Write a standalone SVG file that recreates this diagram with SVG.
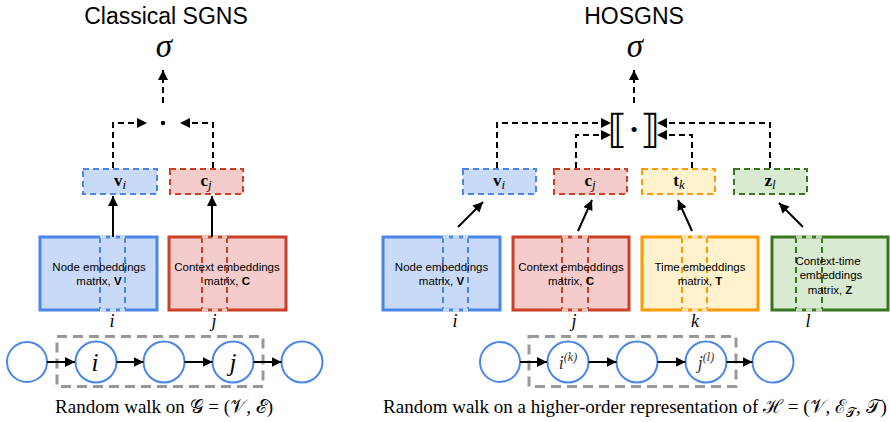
<svg xmlns="http://www.w3.org/2000/svg" width="890" height="422" viewBox="0 0 890 422">
<defs>
<marker id="ah" viewBox="0 0 10 10" refX="10" refY="5" markerWidth="5" markerHeight="5" markerUnits="strokeWidth" orient="auto">
<path d="M0,0 L10,5 L0,10 z" fill="#000"/>
</marker>
<style>
.title{font-family:"Liberation Sans",Arial,sans-serif;font-size:23px;fill:#000;text-anchor:middle}
.sig{font-family:"Liberation Serif","DejaVu Serif",serif;font-style:italic;font-size:33px;fill:#000;text-anchor:middle}
.mt{font-family:"Liberation Sans",Arial,sans-serif;font-size:11.5px;fill:#000;text-anchor:middle}
.bold{font-weight:bold}
.vb{font-family:"Liberation Serif","DejaVu Serif",serif;font-size:17px;fill:#000;text-anchor:middle}
.it{font-style:italic;font-weight:normal}
.idx{font-family:"Liberation Serif","DejaVu Serif",serif;font-style:italic;font-size:18px;fill:#000;text-anchor:middle}
.cl{font-family:"Liberation Serif","DejaVu Serif",serif;font-style:italic;font-size:25px;fill:#000;text-anchor:middle}
.cs{font-family:"Liberation Serif","DejaVu Serif",serif;font-style:italic;font-size:18px;fill:#333;text-anchor:middle}
.cap{font-family:"Liberation Serif","DejaVu Serif",serif;font-size:19px;fill:#000;text-anchor:middle}
.dash{fill:none;stroke:#000;stroke-width:2;stroke-dasharray:6,4}
.solid{fill:none;stroke:#000;stroke-width:2}
.circ{fill:#fff;stroke:#4a86e8;stroke-width:2}
.walkbox{fill:none;stroke:#999;stroke-width:3;stroke-dasharray:10,6}
.sb{stroke-width:2;stroke-dasharray:6,4}
.mb{stroke-width:3}
.col{fill:none;stroke-width:2;stroke-dasharray:6,4}
.colt{fill:none;stroke:#fff;stroke-opacity:0.7;stroke-width:3;stroke-dasharray:6,4}
.blue{fill:#c9daf8;stroke:#4a86e8}
.red{fill:#f4cccc;stroke:#cc4125}
.yel{fill:#fff2cc;stroke:#ff9900}
.grn{fill:#d9ead3;stroke:#38761d}
</style>
</defs>
<rect width="890" height="422" fill="#fff"/>

<!-- Titles -->
<text class="title" x="166" y="24">Classical SGNS</text>
<text class="title" x="634" y="24">HOSGNS</text>

<!-- LEFT: sigma and dot -->
<g id="L_sigma"><text class="sig" x="164" y="57">σ</text></g>
<g id="L_dot"><circle cx="163" cy="123" r="2.2" fill="#000"/></g>

<!-- LEFT small boxes -->
<g id="L_vi">
<rect class="blue sb" x="83" y="169" width="74" height="25"/>
<text class="vb" x="120" y="186"><tspan class="bold">v</tspan><tspan class="it" font-size="13" dy="3">i</tspan></text>
</g>
<g id="L_cj">
<rect class="red sb" x="170" y="169" width="73" height="25"/>
<text class="vb" x="206" y="186"><tspan class="bold">c</tspan><tspan class="it" font-size="13" dy="3">j</tspan></text>
</g>

<!-- LEFT matrices -->
<g id="L_V">
<rect class="blue mb" x="40" y="237" width="117" height="73"/>
<line class="col" x1="100" y1="237" x2="100" y2="310" stroke="#4a86e8"/>
<line class="col" x1="125" y1="237" x2="125" y2="310" stroke="#4a86e8"/>
<line class="colt" x1="100" y1="237" x2="125" y2="237"/>
<line class="colt" x1="100" y1="310" x2="125" y2="310"/>
<text class="mt" x="99" y="271">Node embeddings</text>
<text class="mt" x="99" y="285">matrix, <tspan class="bold">V</tspan></text>
</g>
<g id="L_C">
<rect class="red mb" x="169" y="237" width="117" height="73"/>
<line class="col" x1="202" y1="237" x2="202" y2="310" stroke="#cc4125"/>
<line class="col" x1="227" y1="237" x2="227" y2="310" stroke="#cc4125"/>
<line class="colt" x1="202" y1="237" x2="227" y2="237"/>
<line class="colt" x1="202" y1="310" x2="227" y2="310"/>
<text class="mt" x="227" y="271">Context embeddings</text>
<text class="mt" x="227" y="285">matrix, <tspan class="bold">C</tspan></text>
</g>
<text class="idx" x="112" y="327">i</text>
<text class="idx" x="214" y="327">j</text>

<!-- LEFT walk -->
<rect class="walkbox" x="57" y="336.5" width="206" height="50"/>
<g id="L_n1"><circle class="circ" cx="27" cy="362" r="20"/></g>
<g id="L_n2"><circle class="circ" cx="96" cy="362" r="20.5"/><text class="cl" x="95" y="371">i</text></g>
<g id="L_n3"><circle class="circ" cx="164" cy="362" r="20.5"/></g>
<g id="L_n4"><circle class="circ" cx="233" cy="362" r="20.5"/><text class="cl" x="233" y="371">j</text></g>
<g id="L_n5"><circle class="circ" cx="302" cy="362" r="20.5"/></g>
<text class="cap" x="164" y="413">Random walk on 𝒢 = (𝒱, ℰ)</text>

<!-- RIGHT: sigma and bracket -->
<g id="R_sigma"><text class="sig" x="635" y="57">σ</text></g>
<g id="R_bracket"><text x="634" y="143" font-family="'DejaVu Serif','DejaVu Sans',serif" font-size="40" text-anchor="middle" fill="#000">⟦·⟧</text></g>

<!-- RIGHT small boxes -->
<g id="R_vi">
<rect class="blue sb" x="463" y="169" width="73" height="25"/>
<text class="vb" x="499" y="186"><tspan class="bold">v</tspan><tspan class="it" font-size="13" dy="3">i</tspan></text>
</g>
<g id="R_cj">
<rect class="red sb" x="554" y="169" width="73" height="25"/>
<text class="vb" x="590" y="186"><tspan class="bold">c</tspan><tspan class="it" font-size="13" dy="3">j</tspan></text>
</g>
<g id="R_tk">
<rect class="yel sb" x="642" y="169" width="73" height="25"/>
<text class="vb" x="679" y="186"><tspan class="bold">t</tspan><tspan class="it" font-size="13" dy="3">k</tspan></text>
</g>
<g id="R_zl">
<rect class="grn sb" x="734" y="169" width="73" height="25"/>
<text class="vb" x="770" y="186"><tspan class="bold">z</tspan><tspan class="it" font-size="13" dy="3">l</tspan></text>
</g>

<!-- RIGHT matrices -->
<g id="R_V">
<rect class="blue mb" x="383" y="237" width="117" height="73"/>
<line class="col" x1="443" y1="237" x2="443" y2="310" stroke="#4a86e8"/>
<line class="col" x1="468" y1="237" x2="468" y2="310" stroke="#4a86e8"/>
<line class="colt" x1="443" y1="237" x2="468" y2="237"/>
<line class="colt" x1="443" y1="310" x2="468" y2="310"/>
<text class="mt" x="441.5" y="271">Node embeddings</text>
<text class="mt" x="441.5" y="285">matrix, <tspan class="bold">V</tspan></text>
</g>
<g id="R_C">
<rect class="red mb" x="513" y="237" width="116" height="73"/>
<line class="col" x1="562" y1="237" x2="562" y2="310" stroke="#cc4125"/>
<line class="col" x1="588" y1="237" x2="588" y2="310" stroke="#cc4125"/>
<line class="colt" x1="562" y1="237" x2="588" y2="237"/>
<line class="colt" x1="562" y1="310" x2="588" y2="310"/>
<text class="mt" x="571" y="271">Context embeddings</text>
<text class="mt" x="571" y="285">matrix, <tspan class="bold">C</tspan></text>
</g>
<g id="R_T">
<rect class="yel mb" x="642" y="237" width="116" height="73"/>
<line class="col" x1="682" y1="237" x2="682" y2="310" stroke="#ff9900"/>
<line class="col" x1="707" y1="237" x2="707" y2="310" stroke="#ff9900"/>
<line class="colt" x1="682" y1="237" x2="707" y2="237"/>
<line class="colt" x1="682" y1="310" x2="707" y2="310"/>
<text class="mt" x="700" y="271">Time embeddings</text>
<text class="mt" x="700" y="285">matrix, <tspan class="bold">T</tspan></text>
</g>
<g id="R_Z">
<rect class="grn mb" x="772" y="237" width="116" height="73"/>
<line class="col" x1="796" y1="237" x2="796" y2="310" stroke="#38761d"/>
<line class="col" x1="822" y1="237" x2="822" y2="310" stroke="#38761d"/>
<line class="colt" x1="796" y1="237" x2="822" y2="237"/>
<line class="colt" x1="796" y1="310" x2="822" y2="310"/>
<text class="mt" x="828" y="265">Context-time</text>
<text class="mt" x="831" y="279">embeddings</text>
<text class="mt" x="830" y="294">matrix, <tspan class="bold">Z</tspan></text>
</g>
<text class="idx" x="455" y="327">i</text>
<text class="idx" x="574" y="327">j</text>
<text class="idx" x="695" y="327">k</text>
<text class="idx" x="808" y="327">l</text>

<!-- RIGHT walk -->
<rect class="walkbox" x="529" y="336.5" width="207" height="50"/>
<g id="R_n1"><circle class="circ" cx="500" cy="362" r="20"/></g>
<g id="R_n2"><circle class="circ" cx="568" cy="362" r="20.5"/><text class="cs" x="568" y="369">i<tspan font-size="12" dy="-8">(k)</tspan></text></g>
<g id="R_n3"><circle class="circ" cx="637" cy="362" r="20.5"/></g>
<g id="R_n4"><circle class="circ" cx="706" cy="362" r="20.5"/><text class="cs" x="706" y="369">j<tspan font-size="12" dy="-8">(l)</tspan></text></g>
<g id="R_n5"><circle class="circ" cx="773" cy="362" r="20.5"/></g>
<text class="cap" x="635" y="413">Random walk on a higher-order representation of ℋ = (𝒱, ℰ<tspan font-size="13" dy="4">𝒯</tspan><tspan dy="-4">, 𝒯)</tspan></text>

<!-- Connectors -->
<g id="connectors">
<!-- left -->
<path class="dash" d="M163,103 V70" marker-end="url(#ah)"/>
<path class="dash" d="M113,168 V123 H147" marker-end="url(#ah)"/>
<path class="dash" d="M213,168 V123 H180" marker-end="url(#ah)"/>
<path class="solid" d="M113,237 V196" marker-end="url(#ah)"/>
<path class="solid" d="M212,237 V196" marker-end="url(#ah)"/>
<path class="solid" d="M47,362 H75" marker-end="url(#ah)"/>
<path class="solid" d="M116.5,362 H143.5" marker-end="url(#ah)"/>
<path class="solid" d="M184.5,362 H212.5" marker-end="url(#ah)"/>
<path class="solid" d="M253.5,362 H281.5" marker-end="url(#ah)"/>
<!-- right -->
<path class="dash" d="M634,103 V70" marker-end="url(#ah)"/>
<path class="dash" d="M497,168 V123 H611" marker-end="url(#ah)"/>
<path class="dash" d="M576,168 V135 H611" marker-end="url(#ah)"/>
<path class="dash" d="M692,168 V135 H657" marker-end="url(#ah)"/>
<path class="dash" d="M770,168 V123 H657" marker-end="url(#ah)"/>
<path class="solid" d="M458,227 L483,202" marker-end="url(#ah)"/>
<path class="solid" d="M578,231 L592,200" marker-end="url(#ah)"/>
<path class="solid" d="M692,231 L678,200" marker-end="url(#ah)"/>
<path class="solid" d="M803,227 L779,203" marker-end="url(#ah)"/>
<path class="solid" d="M520,362 H547" marker-end="url(#ah)"/>
<path class="solid" d="M588.5,362 H616.5" marker-end="url(#ah)"/>
<path class="solid" d="M657.5,362 H685.5" marker-end="url(#ah)"/>
<path class="solid" d="M726.5,362 H752.5" marker-end="url(#ah)"/>
</g>
</svg>
